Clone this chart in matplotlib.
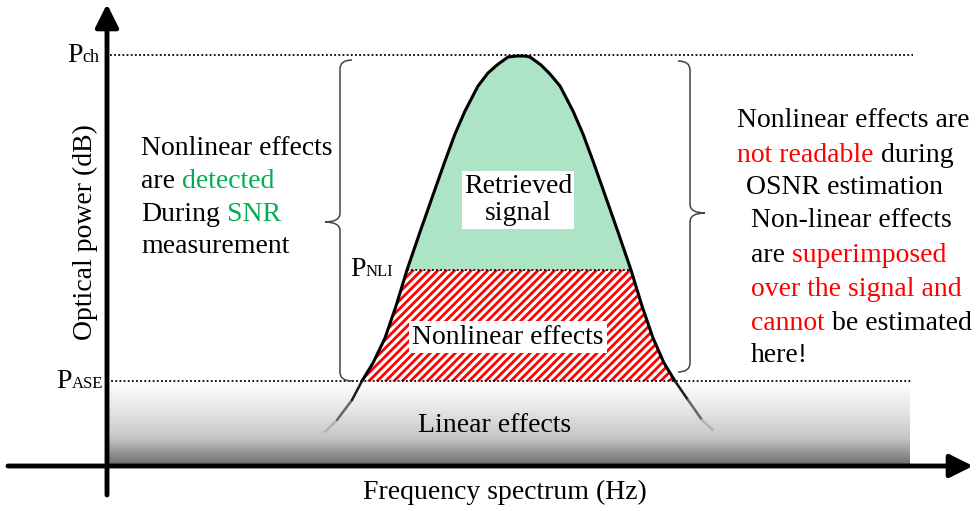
import matplotlib.pyplot as plt
import numpy as np
from matplotlib.path import Path
from matplotlib.patches import PathPatch
from matplotlib.colors import LinearSegmentedColormap
from matplotlib.collections import LineCollection

plt.rcParams['font.family'] = ['Liberation Serif', 'DejaVu Serif']
plt.rcParams['hatch.linewidth'] = 2.0

FS = 20
GREEN = '#00B050'
RED = '#FF0000'

# power levels (arbitrary units, origin where the axes cross)
P_ASE = 85
P_NLI = 196
P_CH = 411
X_END = 805  # right end of the noise floor / dotted guides

# channel spectrum
freq = np.array([218, 230, 245, 255, 266, 278, 289, 300, 313, 326, 338, 348,
                 358, 371, 381, 390, 401, 410, 418, 423, 434, 443, 453, 466,
                 476, 486, 498, 511, 524, 535, 546, 557, 568, 581, 595, 606])
power = np.array([34, 46, 66, 85, 103, 128, 160, 196, 234, 271, 305, 332,
                  355, 380, 393, 401, 409, 410, 410, 409, 401, 392, 380, 355,
                  332, 305, 271, 234, 196, 160, 128, 103, 85, 66, 46, 36])

left_lines = [
    [("Nonlinear effects", 'black')],
    [("are", 'black'), (" detected", GREEN)],
    [("During", 'black'), (" SNR", GREEN)],
    [("measurement", 'black')],
]
right_lines = [
    [("Nonlinear effects are", 'black')],
    [("not readable", RED), (" during", 'black')],
    [(" OSNR estimation", 'black')],
    [("Non-linear effects", 'black')],
    [("are", 'black'), (" superimposed", RED)],
    [("over the signal and", RED)],
    [("cannot", RED), (" be estimated", 'black')],
    [("here!", 'black')],
]

fig = plt.figure(figsize=(9.76, 5.11), dpi=100)
ax = fig.add_axes([0, 0, 1, 1])
ax.axis('off')

# noise floor (linear effects), white -> grey gradient
grad = np.linspace(0, 1, 256).reshape(-1, 1)
cmap = LinearSegmentedColormap.from_list('floor', ['#ffffff', '#e6e6e6', '#c6c6c6', '#6a6a6a'])
ax.imshow(grad, extent=(0, X_END - 2, 0, P_ASE), aspect='auto', cmap=cmap,
          origin='upper', zorder=0)

# retrieved signal (green) and nonlinear part (hatched)
top = power >= P_NLI
ax.fill(freq[top], power[top], color='#ade4c6', lw=0, zorder=1)
mid = (power >= P_ASE) & (power <= P_NLI)
ax.fill(freq[mid], power[mid], facecolor='white', edgecolor=RED, hatch='////',
        lw=0, zorder=1)

# spectrum outline, tails fade into the noise floor
main = power >= P_ASE
ax.plot(freq[main], power[main], color='black', lw=2.2, zorder=3,
        solid_capstyle='round', solid_joinstyle='round')
for side in (freq < 300, freq > 525):
    sel = side & (power <= P_ASE)
    pts = np.column_stack([freq[sel], power[sel]])
    segs = np.stack([pts[:-1], pts[1:]], axis=1)
    shade = np.linspace(0.1, 0.7, len(segs))
    if freq[sel][0] < 300:
        shade = shade[::-1]
    lc = LineCollection(segs, colors=[str(s) for s in shade], linewidths=1.8,
                        zorder=3, capstyle='round')
    ax.add_collection(lc)

# dotted guide lines
dot = dict(color='black', lw=1.3, ls=(0, (1, 1.3)), zorder=4)
ax.plot([3, X_END + 1], [P_CH, P_CH], **dot)
ax.plot([0, X_END], [P_ASE, P_ASE], **dot)
ax.plot([freq[top][0], freq[top][-1]], [P_NLI, P_NLI], **dot)

# axes arrows
arrow = dict(arrowstyle='-|>,head_length=0.7,head_width=0.35', lw=3.5,
             color='black', shrinkA=0, shrinkB=0, mutation_scale=20)
ax.annotate('', xy=(0, 462), xytext=(0, -29), arrowprops=arrow, zorder=5)
ax.annotate('', xy=(866, 0), xytext=(-99, 0), arrowprops=arrow, zorder=5)

ax.text(-22, 234, "Optical power (dB)", rotation=90, ha='center', va='center', fontsize=FS)
ax.text(398, -26, "Frequency spectrum (Hz)", ha='center', va='center', fontsize=FS)


# level labels: "P" with a small label on the same baseline
def level_label(x, y, sub, sub_size):
    ax.text(x, y, "P", ha='left', va='baseline', fontsize=FS)
    ax.annotate(sub, xy=(x, y), xytext=(0.556 * FS, 0), textcoords='offset points',
                ha='left', va='baseline', fontsize=sub_size)


level_label(-40, P_CH - 7, "ch", 13)
level_label(-51, P_ASE - 7, "ASE", 12)
level_label(243, P_NLI - 6, "NLI", 12)

# region labels
ax.text(411, 266, "Retrieved\nsignal", ha='center', va='center', fontsize=FS,
        linespacing=1.15, zorder=6,
        bbox=dict(boxstyle='square,pad=0.08', fc='white', ec='none'))
ax.text(401, 129, "Nonlinear effects", ha='center', va='center', fontsize=FS, zorder=6,
        bbox=dict(boxstyle='square,pad=0.12', fc='white', ec='none'))
ax.text(388, 41, "Linear effects", ha='center', va='center', fontsize=FS, zorder=6)


def brace(x, top_y, bot_y, tip_y, d, hook=12, tip=15, r=9):
    verts = [(x - d * hook, top_y), (x, top_y), (x, top_y - r),
             (x, tip_y + r), (x, tip_y), (x + d * tip, tip_y),
             (x, tip_y), (x, tip_y - r),
             (x, bot_y + r), (x, bot_y), (x - d * hook, bot_y)]
    codes = [Path.MOVETO, Path.CURVE3, Path.CURVE3, Path.LINETO,
             Path.CURVE3, Path.CURVE3, Path.CURVE3, Path.CURVE3,
             Path.LINETO, Path.CURVE3, Path.CURVE3]
    ax.add_patch(PathPatch(Path(verts, codes), fc='none', ec='#444444', lw=1.1, zorder=4))


brace(233, 406, 85, 244, -1)
brace(583, 405, 94, 253, 1)


def colored_line(x, y, parts):
    t = ax.text(x, y, parts[0][0], color=parts[0][1], ha='left', va='center', fontsize=FS)
    for s, c in parts[1:]:
        t = ax.annotate(s, xy=(1, 0), xycoords=t, ha='left', va='bottom',
                        color=c, fontsize=FS)


for parts, y in zip(left_lines, [318, 285, 252, 220]):
    colored_line(34, y, parts)

right_x = [630, 630, 632, 644, 644, 644, 644, 644]
right_y = [346, 311, 279, 246, 211, 177, 143, 111]
for parts, x, y in zip(right_lines, right_x, right_y):
    colored_line(x, y, parts)

ax.set_xlim(-107, 869)
ax.set_ylim(-45, 466)

plt.savefig("out.png", dpi=100)
